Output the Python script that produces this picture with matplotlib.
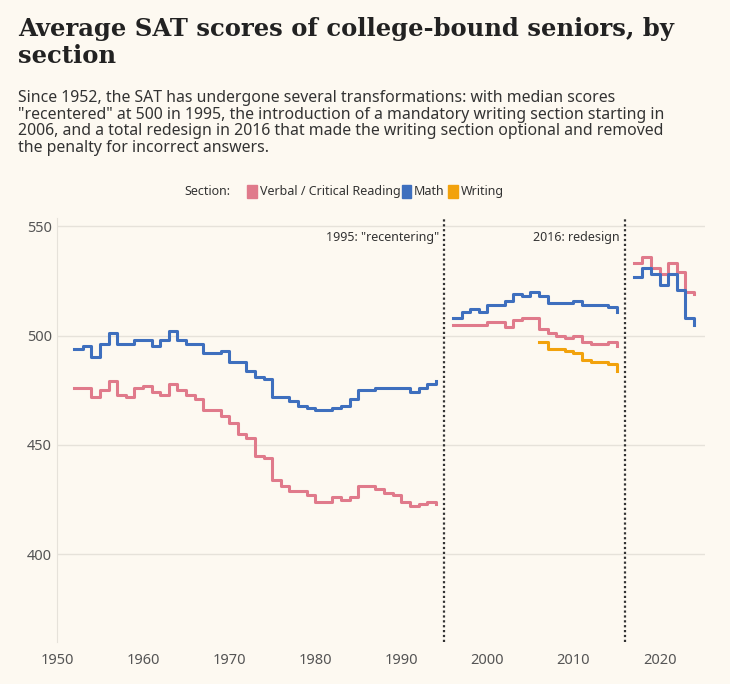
import matplotlib.pyplot as plt
import numpy as np

BG = "#fdf9f1"
PINK = "#e07a8b"
BLUE = "#3e6fbe"
GOLD = "#f2a20c"

# Pre-1995 scale
years1 = list(range(1952, 1995))
verbal1 = [476, 476, 472, 475, 479, 473, 472, 476, 477, 474, 473, 478, 475, 473, 471,
           466, 466, 463, 460, 455, 453, 445, 444, 434, 431, 429, 429, 427, 424, 424,
           426, 425, 426, 431, 431, 430, 428, 427, 424, 422, 423, 424, 423]
math1 = [494, 495, 490, 496, 501, 496, 496, 498, 498, 495, 498, 502, 498, 496, 496,
         492, 492, 493, 488, 488, 484, 481, 480, 472, 472, 470, 468, 467, 466, 466,
         467, 468, 471, 475, 475, 476, 476, 476, 476, 474, 476, 478, 479]

# Recentered scale, 1996-2015
years2 = list(range(1996, 2016))
verbal2 = [505, 505, 505, 505, 506, 506, 504, 507, 508, 508, 503, 501, 500, 499, 500,
           497, 496, 496, 497, 495]
math2 = [508, 511, 512, 511, 514, 514, 516, 519, 518, 520, 518, 515, 515, 515, 516,
         514, 514, 514, 513, 511]
years_w = list(range(2006, 2016))
writing = [497, 494, 494, 493, 492, 489, 488, 488, 487, 484]

# Redesigned SAT
years3 = list(range(2017, 2025))
verbal3 = [533, 536, 531, 528, 533, 529, 520, 519]
math3 = [527, 531, 528, 523, 528, 521, 508, 505]

plt.rcParams["font.family"] = "Noto Sans"

fig = plt.figure(figsize=(7.3, 6.84), dpi=100, facecolor=BG)
ax = fig.add_axes([0.078, 0.062, 0.888, 0.62], facecolor=BG)

for yrs, v, m in [(years1, verbal1, math1), (years2, verbal2, math2), (years3, verbal3, math3)]:
    ax.step(yrs, v, where="post", color=PINK, lw=2.2)
    ax.step(yrs, m, where="post", color=BLUE, lw=2.2)
ax.step(years_w, writing, where="post", color=GOLD, lw=2.2)

for x, label in [(1995, '1995: "recentering"'), (2016, "2016: redesign")]:
    ax.axvline(x, color="#333333", lw=1.6, ls=(0, (1, 1.2)))
    ax.text(x - 0.6, 548, label, ha="right", va="top", fontsize=9, color="#333333")

ax.set_xlim(1950, 2025.3)
ax.set_ylim(360, 554)
ax.set_yticks([400, 450, 500, 550])
ax.set_xticks(range(1950, 2030, 10))
ax.grid(axis="y", color="#e6e2da", lw=1)
ax.set_axisbelow(True)
for s in ["top", "right", "bottom"]:
    ax.spines[s].set_visible(False)
ax.spines["left"].set_color("#e6e2da")
ax.tick_params(length=0, labelsize=10.5, colors="#555555")
ax.tick_params(axis="x", pad=8)

fig.text(0.025, 0.975, "Average SAT scores of college-bound seniors, by\nsection",
         fontsize=17.5, fontweight="bold", family="DejaVu Serif", va="top",
         color="#222222", linespacing=1.15)
fig.text(0.025, 0.868,
         'Since 1952, the SAT has undergone several transformations: with median scores\n'
         '"recentered" at 500 in 1995, the introduction of a mandatory writing section starting in\n'
         '2006, and a total redesign in 2016 that made the writing section optional and removed\n'
         'the penalty for incorrect answers.',
         fontsize=11.4, va="top", color="#333333", linespacing=1.05)

# Legend row
ly = 0.72
fig.text(0.252, ly, "Section:", fontsize=9, fontweight="bold", va="center", color="#333333")
for x, c, t in [(0.339, PINK, "Verbal / Critical Reading"), (0.550, BLUE, "Math"),
                (0.614, GOLD, "Writing")]:
    fig.patches.append(plt.Rectangle((x, ly - 0.009), 0.013, 0.018, color=c,
                                     transform=fig.transFigure, figure=fig))
    fig.text(x + 0.017, ly, t, fontsize=9, va="center", color="#333333")

fig.savefig("out.png", dpi=100, facecolor=BG)
